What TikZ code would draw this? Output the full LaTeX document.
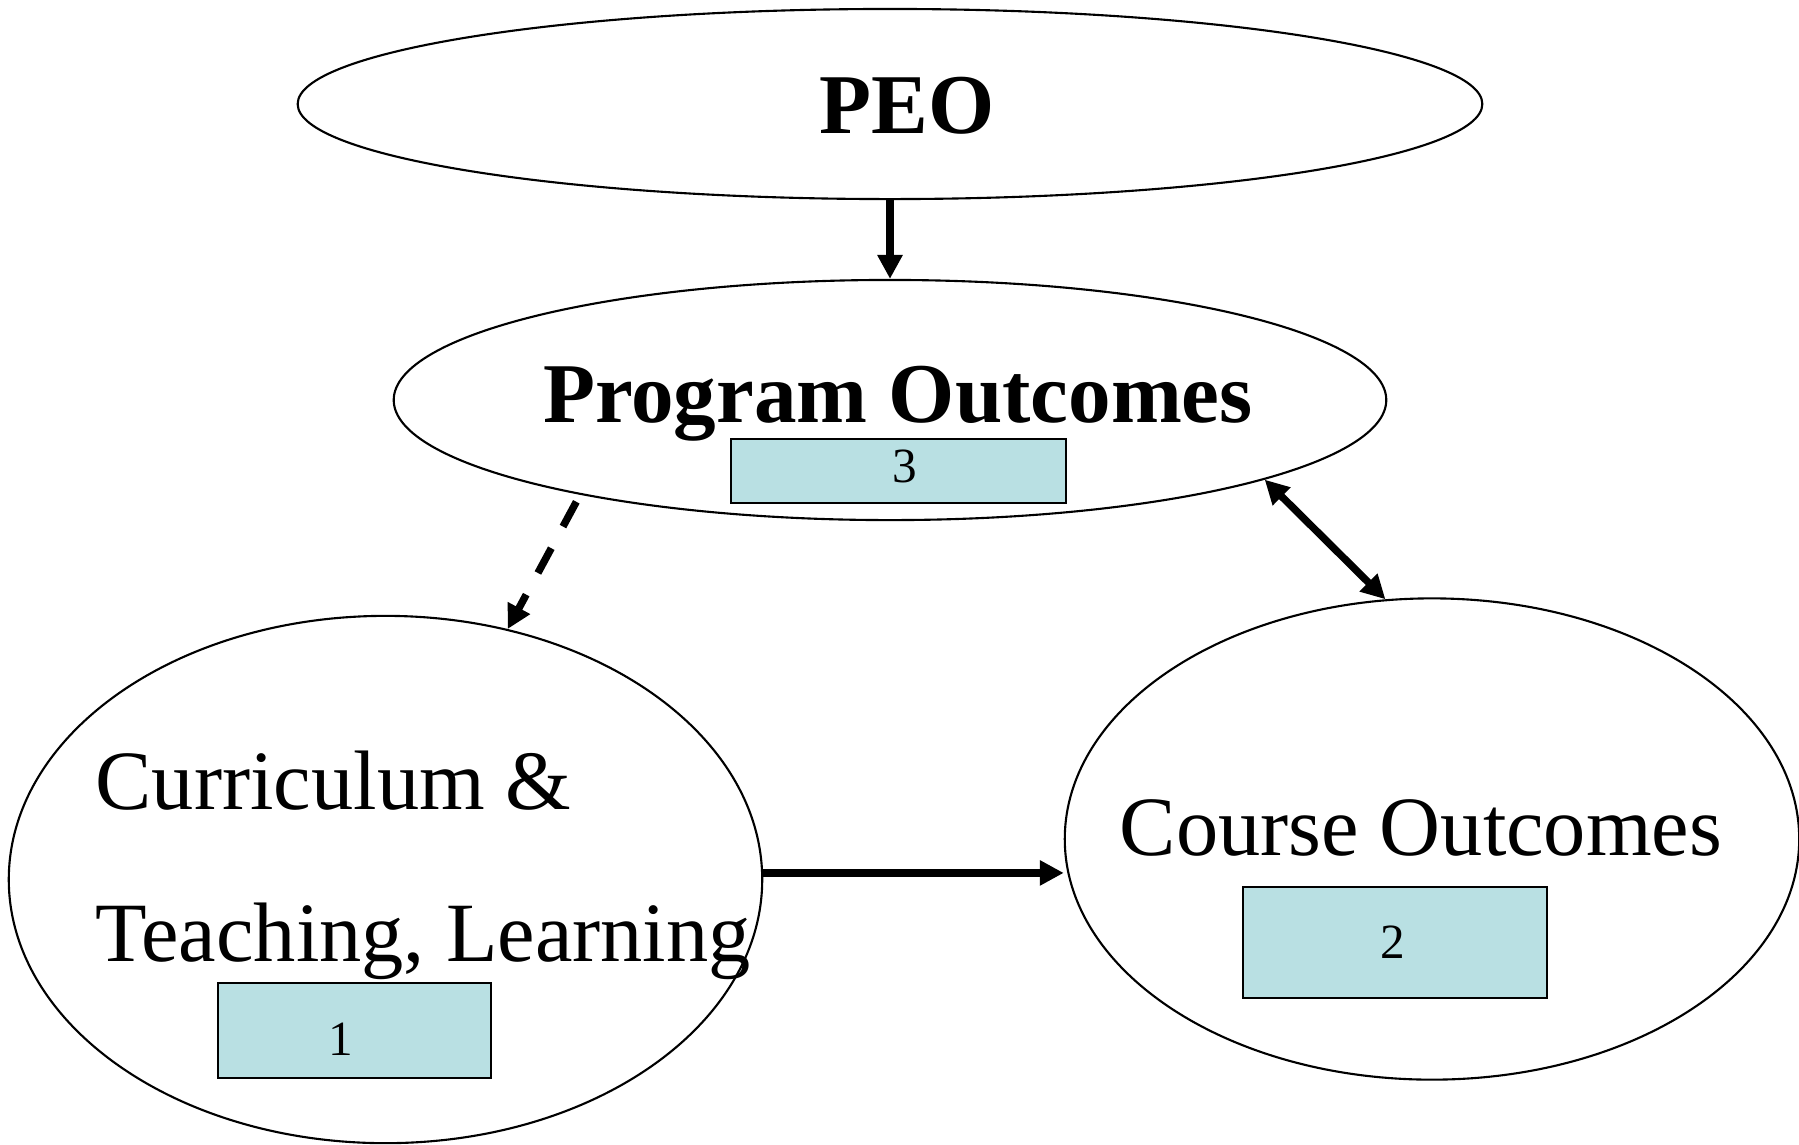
\documentclass[tikz,border=0pt]{standalone}
\usepackage{fontspec}
\setmainfont{Liberation Serif}
\usetikzlibrary{shapes.geometric,arrows.meta}
\definecolor{boxcyan}{RGB}{185,224,227}

\begin{document}
\begin{tikzpicture}[
        %We set the units (pixels of the page) and define some styles
        x=0.01cm, y=-0.01cm,
        oval/.style={draw, ellipse, inner sep=0pt, line width=0.6pt},
        numbox/.style={draw, fill=boxcyan, line width=0.75pt, inner sep=0pt},
        num/.style={inner sep=0pt, font=\fontsize{14}{16}\selectfont},
        big text/.style={inner sep=0pt, font=\fontsize{24}{28}\selectfont},
        bold text/.style={big text, font=\fontsize{24.2}{28}\selectfont\bfseries},
        link/.style={line width=2.1pt, -{Triangle[length=6.8pt,width=6.8pt]}},
        both link/.style={line width=2.1pt,
                          {Triangle[length=6.8pt,width=6.8pt]}-{Triangle[length=6.8pt,width=6.8pt]}},
        dashed link/.style={link, dash pattern=on 8pt off 7pt}
     ]
    \useasboundingbox (0,0) rectangle (1799,1144);
    % the four ellipses
    \node[oval, minimum width=11.84cm, minimum height=1.9cm] (peo) at (890,104) {};
    \node[oval, minimum width=9.92cm, minimum height=2.4cm] (po) at (890,400) {};
    \node[oval, minimum width=7.53cm, minimum height=5.27cm] (ct) at (385.5,879.5) {};
    \node[oval, minimum width=7.34cm, minimum height=4.81cm] (co) at (1432,839) {};
    % texts
    \node[bold text, anchor=base] (peotext) at (907,133) {PEO};
    \node[bold text, anchor=base] (potext) at (898,422) {Program Outcomes};
    \node[big text, anchor=base west] (cttext) at (95,809) {Curriculum \&};
    \node[big text, anchor=base west] (tltext) at (95,961) {Teaching, Learning};
    \node[big text, anchor=base west] (cotext) at (1119,855) {Course Outcomes};
    % numbered boxes
    \node[numbox, minimum width=3.35cm, minimum height=0.64cm] (box3) at (898.5,471) {};
    \node[numbox, minimum width=3.04cm, minimum height=1.11cm] (box2) at (1395,942.5) {};
    \node[numbox, minimum width=2.73cm, minimum height=0.95cm] (box1) at (354.5,1030.5) {};
    \node[num] (num3) at (905,466) {3};
    \node[num] (num2) at (1393,942) {2};
    \node[num] (num1) at (341,1039) {1};
    % connectors
    \draw[link] (peo.south) -- (po.north);
    \draw[dashed link, shorten <=0.08cm] (po.197.4) -- (ct.64);
    \draw[both link] (po.-12.05) -- (co.101);
    \draw[link] (ct.1) -- (ct.1 -| co.west);
\end{tikzpicture}
\end{document}
